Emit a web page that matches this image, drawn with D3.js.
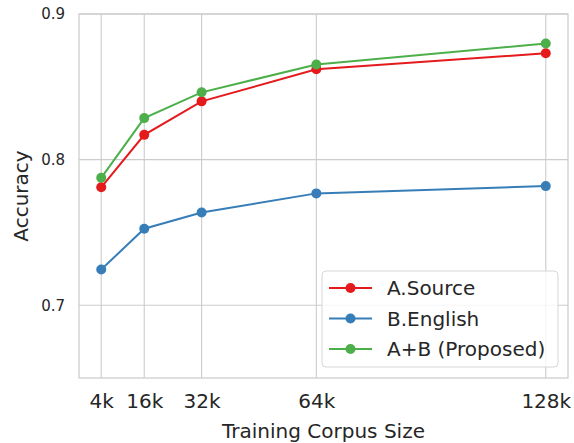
<!DOCTYPE html>
<html>
<head>
<meta charset="utf-8">
<script src="https://cdn.jsdelivr.net/npm/d3@7"></script>
<style>
  body { margin: 0; background: #fff; }
  svg { font-family: "DejaVu Sans", sans-serif; }
  .grid line { stroke: #cccccc; stroke-width: 1.1; }
</style>
</head>
<body>
<div id="chart"></div>
<script>
// corpus sizes (k) and accuracies
const sizes = [4, 16, 32, 64, 128];
const sizeLabels = ['4k', '16k', '32k', '64k', '128k'];
const sourceAcc = [0.781, 0.817, 0.840, 0.862, 0.873];
const englishAcc = [0.7245, 0.7525, 0.7637, 0.7768, 0.7818];
const proposedAcc = [0.7875, 0.8285, 0.8462, 0.8653, 0.8798];
const yTicks = [0.7, 0.8, 0.9];

const seriesNames = ['A.Source', 'B.English', 'A+B (Proposed)'];
const colors = ['#e41a1c', '#377eb8', '#4daf4a'];

const width = 574, height = 443;
const margin = { top: 14, right: 6, bottom: 65, left: 79 };
const w = width - margin.left - margin.right;
const h = height - margin.top - margin.bottom;

const svg = d3.select('#chart').append('svg')
  .attr('width', width)
  .attr('height', height);

const chart = svg.append('g')
  .attr('transform', 'translate(' + margin.left + ',' + margin.top + ')');

const pad = (128 - 4) * 0.05;
const xScale = d3.scaleLinear().domain([4 - pad, 128 + pad]).range([0, w]);
const yScale = d3.scaleLinear().domain([0.65, 0.9]).range([h, 0]);

// grid
const grid = chart.append('g').attr('class', 'grid');
grid.selectAll('line.v').data(sizes).enter().append('line')
  .attr('x1', d => xScale(d)).attr('x2', d => xScale(d))
  .attr('y1', 0).attr('y2', h);
grid.selectAll('line.h').data(yTicks).enter().append('line')
  .attr('x1', 0).attr('x2', w)
  .attr('y1', d => yScale(d)).attr('y2', d => yScale(d));

// frame
chart.append('rect')
  .attr('width', w).attr('height', h)
  .attr('fill', 'none').attr('stroke', '#cccccc').attr('stroke-width', 1.25);

// axes
const xAxis = d3.axisBottom(xScale).tickValues(sizes)
  .tickFormat((d, i) => sizeLabels[i]).tickSize(0).tickPadding(16);
const yAxis = d3.axisLeft(yScale).tickValues(yTicks)
  .tickFormat(d3.format('.1f')).tickSize(0).tickPadding(14);

const gx = chart.append('g').attr('transform', 'translate(0,' + h + ')').call(xAxis);
gx.select('.domain').remove();
gx.selectAll('text').attr('font-size', 20).attr('fill', '#262626')
  .attr('font-family', '"DejaVu Sans", sans-serif');

const gy = chart.append('g').call(yAxis);
gy.select('.domain').remove();
gy.selectAll('text').attr('font-size', 15).attr('fill', '#262626')
  .attr('font-family', '"DejaVu Sans", sans-serif');

// axis titles
svg.append('text')
  .attr('x', margin.left + w / 2).attr('y', 438)
  .attr('text-anchor', 'middle').attr('font-size', 20).attr('fill', '#262626')
  .text('Training Corpus Size');
svg.append('text')
  .attr('transform', 'translate(27.5,' + (margin.top + h / 2) + ') rotate(-90)')
  .attr('text-anchor', 'middle').attr('font-size', 20).attr('fill', '#262626')
  .text('Accuracy');

// lines
const allSeries = [sourceAcc, englishAcc, proposedAcc];
const line = d3.line().x((d, i) => xScale(sizes[i])).y(d => yScale(d));

allSeries.forEach(function(vals, s) {
  const g = chart.append('g');
  g.append('path').datum(vals)
    .attr('d', line).attr('fill', 'none')
    .attr('stroke', colors[s]).attr('stroke-width', 2);
  g.selectAll('circle').data(vals).enter().append('circle')
    .attr('cx', (d, i) => xScale(sizes[i])).attr('cy', d => yScale(d))
    .attr('r', 5).attr('fill', colors[s]);
});

// legend
const legend = svg.append('g').attr('transform', 'translate(322,271)');
legend.append('rect')
  .attr('width', 236).attr('height', 96).attr('rx', 4)
  .attr('fill', 'rgba(255,255,255,0.8)').attr('stroke', '#d6d6d6');
seriesNames.forEach(function(name, i) {
  const y = 17 + i * 30.5;
  legend.append('line').attr('x1', 7).attr('x2', 50).attr('y1', y).attr('y2', y)
    .attr('stroke', colors[i]).attr('stroke-width', 2);
  legend.append('circle').attr('cx', 28.5).attr('cy', y).attr('r', 5).attr('fill', colors[i]);
  legend.append('text').attr('x', 65).attr('y', y).attr('dy', '0.35em')
    .attr('font-size', 20).attr('fill', '#262626').text(name);
});
</script>
</body>
</html>
